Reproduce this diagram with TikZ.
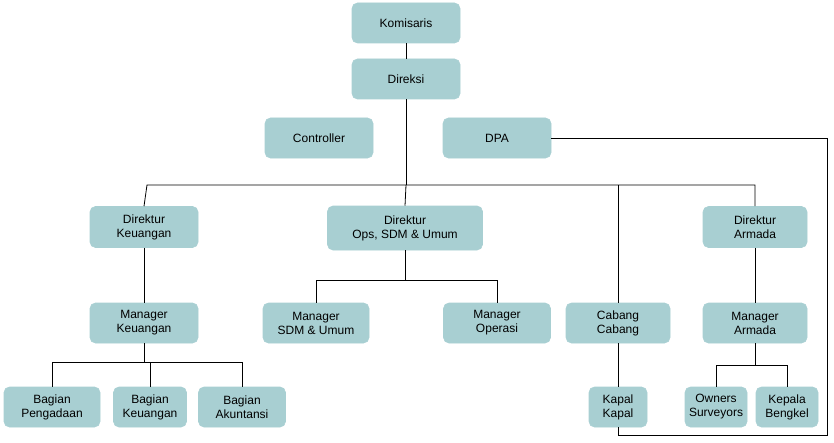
\documentclass[tikz,border=0pt]{standalone}
\usepackage{fontspec}
\setmainfont{Liberation Sans}
\definecolor{boxc}{HTML}{A8CFD2}
\begin{document}
\begin{tikzpicture}[x=0.75pt,y=-0.75pt,
  bx/.style={draw=boxc,fill=boxc,rounded corners=4pt,inner sep=0pt,align=center,font=\fontsize{9}{10.5}\selectfont},
  ln/.style={draw=black,line width=0.6pt}]
\useasboundingbox (0,0) rectangle (834,442);
\newcommand{\bxn}[6]{\node[bx,minimum width=#4*0.75pt,minimum height=#5*0.75pt] (#1) at (#2,#3) {#6};}
\bxn{kom}{406}{23}{108}{40}{Komisaris}
\bxn{dir}{406}{79}{108}{40}{Direksi}
\bxn{con}{319}{138}{108}{40}{Controller}
\bxn{dpa}{497}{138}{108}{40}{DPA}
\bxn{dk}{144}{227}{108}{41}{Direktur\\Keuangan}
\bxn{dops}{405}{228}{155}{44}{Direktur\\Ops, SDM \& Umum}
\bxn{da}{755}{227}{104}{41}{Direktur\\Armada}
\bxn{mk}{144}{323}{108}{40}{Manager\\Keuangan}
\bxn{msdm}{316}{323}{106}{40}{Manager\\SDM \& Umum}
\bxn{mo}{497}{323}{107}{40}{Manager\\Operasi}
\bxn{cab}{618}{323}{104}{40}{Cabang\\Cabang}
\bxn{ma}{755}{323}{104}{40}{Manager\\Armada}
\bxn{bp}{52}{407}{96}{40}{Bagian\\Pengadaan}
\bxn{bk}{150}{407}{73}{40}{Bagian\\Keuangan}
\bxn{ba}{242}{407}{87}{40}{Bagian\\Akuntansi}
\bxn{kk}{618}{407}{58}{40}{Kapal\\Kapal}
\bxn{os}{716}{407}{62}{40}{Owners\\Surveyors}
\bxn{kb}{787}{407}{62}{40}{Kepala\\Bengkel}
\coordinate (h1) at (406,185);
\draw[ln] (kom) -- (dir);
\draw[ln] (dir.south) -- (h1);
\draw[ln] (dk.north) -- (147,185) -- (755,185) -- (da.north);
\draw[ln] (h1) -- (dops.north);
\draw[ln] (618,185) -- (cab.north);
\draw[ln] (dpa.east) -- (827,138) -- (827,435) -- (618,435) -- (kk.south);
\draw[ln] (dops.south) -- (405,280);
\draw[ln] (msdm.north) -- (316,280) -- (497,280) -- (mo.north);
\draw[ln] (dk) -- (mk);
\draw[ln] (mk.south) -- (144,362);
\draw[ln] (bp.north) -- (52,362) -- (242,362) -- (ba.north);
\draw[ln] (150,362) -- (bk.north);
\draw[ln] (cab) -- (kk);
\draw[ln] (da) -- (ma);
\draw[ln] (ma.south) -- (755,365);
\draw[ln] (os.north) -- (716,365) -- (787,365) -- (kb.north);
\end{tikzpicture}
\end{document}
